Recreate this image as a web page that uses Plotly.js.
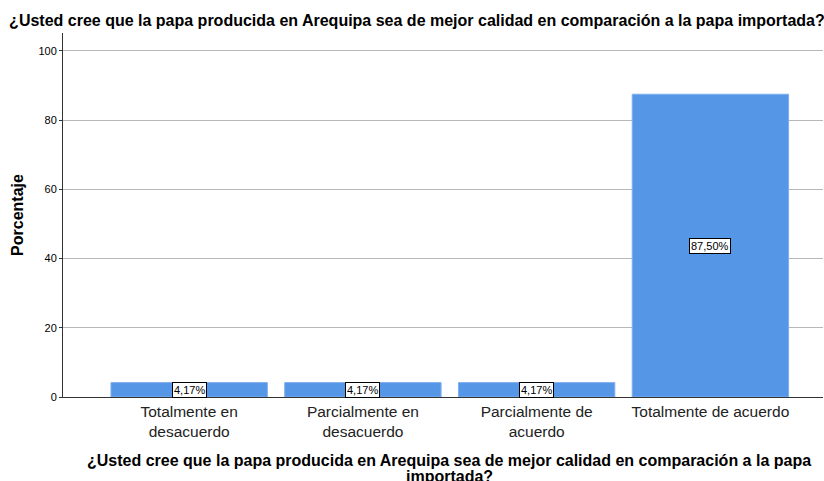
<!DOCTYPE html>
<html>
<head>
<meta charset="utf-8">
<script src="https://cdn.plot.ly/plotly-3.0.1.min.js"></script>
<style>html,body{margin:0;padding:0;background:#fff;}#chart{width:824px;height:481px;}</style>
</head>
<body>
<div id="chart"></div>
<script>
const categories = ["Totalmente en<br>desacuerdo", "Parcialmente en<br>desacuerdo", "Parcialmente de<br>acuerdo", "Totalmente de acuerdo"];
const values = [4.17, 4.17, 4.17, 87.50];
const labels = ["4,17%", "4,17%", "4,17%", "87,50%"];
const yTicks = [0, 20, 40, 60, 80, 100];
const titleText = "¿Usted cree que la papa producida en Arequipa sea de mejor calidad en comparación a la papa importada?";
const xTitleLines = ["¿Usted cree que la papa producida en Arequipa sea de mejor calidad en comparación a la papa", "importada?"];
const yTitleText = "Porcentaje";

const font = "Liberation Sans, Arial, sans-serif";

const trace = {
  type: "bar",
  x: [0, 1, 2, 3],
  y: values,
  width: 0.9,
  marker: {color: "#5596E6", line: {color: "#7fb0ee", width: 1}},
  hoverinfo: "none"
};

const annotations = values.map((v, i) => ({
  x: i, y: v / 2, xref: "x", yref: "y",
  text: labels[i], showarrow: false,
  bgcolor: "#ffffff", bordercolor: "#000000", borderwidth: 1, borderpad: 1,
  font: {family: font, size: 11, color: "#000"}
}));
const xTitleY = [-0.1758, -0.2185];
xTitleLines.forEach((t, k) => annotations.push({
  xref: "paper", yref: "paper", x: 0.5, xshift: 6, y: xTitleY[k], xanchor: "center", yanchor: "middle",
  text: "<b>" + t + "</b>", showarrow: false,
  font: {family: font, size: 16, color: "#000"}
}));

const layout = {
  width: 824, height: 481,
  margin: {l: 63, r: 1, t: 33, b: 84},
  paper_bgcolor: "#fff", plot_bgcolor: "#fff",
  showlegend: false,
  title: {text: "<b>" + titleText + "</b>", x: 0.506, xref: "container", xanchor: "center", y: 0.958, yanchor: "middle",
          font: {family: font, size: 16, color: "#000"}},
  xaxis: {
    range: [-0.726, 3.648], tickvals: [0, 1, 2, 3], ticktext: categories,
    showgrid: false, zeroline: false, showline: true, linecolor: "#333", linewidth: 1,
    ticks: "", tickfont: {family: font, size: 15.5, color: "#222"}, fixedrange: true
  },
  yaxis: {
    range: [0, 105.2], tickvals: yTicks, ticktext: yTicks.map(String),
    showgrid: true, gridcolor: "#b8b8b8", gridwidth: 1, zeroline: false,
    showline: true, linecolor: "#333", linewidth: 1, ticks: "outside", ticklen: 3, tickcolor: "#333",
    tickfont: {family: font, size: 11, color: "#000"},
    title: {text: "<b>" + yTitleText + "</b>", font: {family: font, size: 16, color: "#000"}, standoff: 10}
  },
  annotations: annotations
};

Plotly.newPlot("chart", [trace], layout, {displayModeBar: false, staticPlot: true});
</script>
</body>
</html>
